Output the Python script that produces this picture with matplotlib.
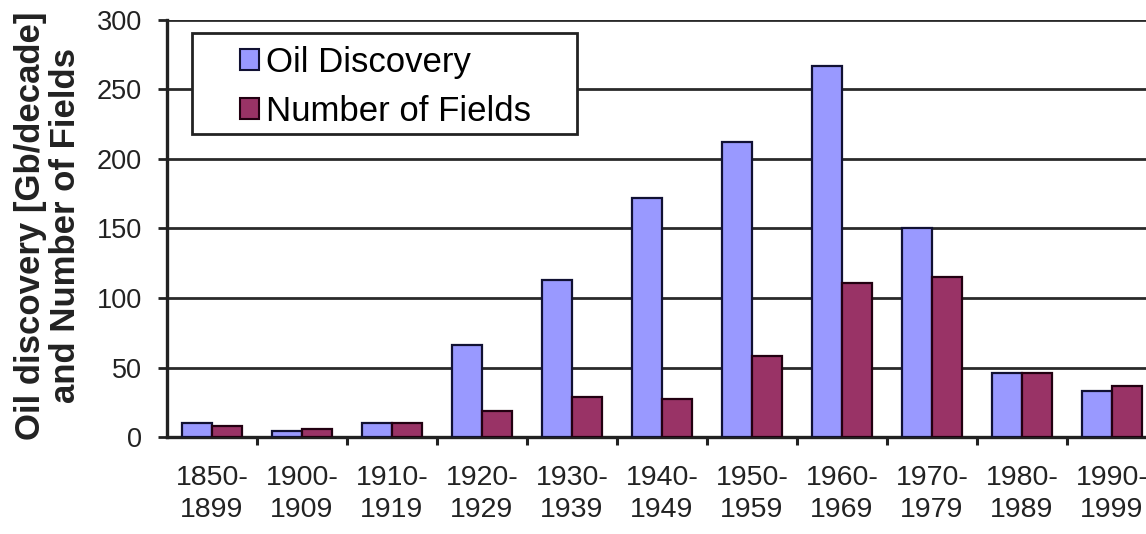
import matplotlib
matplotlib.use("Agg")
import matplotlib.pyplot as plt
from matplotlib.ticker import FixedLocator, NullFormatter
from matplotlib.patches import Rectangle

categories = ["1850-\n1899", "1900-\n1909", "1910-\n1919", "1920-\n1929", "1930-\n1939",
              "1940-\n1949", "1950-\n1959", "1960-\n1969", "1970-\n1979", "1980-\n1989", "1990-\n1999"]
oil_discovery = [10, 4, 10, 66, 113, 172, 212, 267, 150, 46, 33]
number_of_fields = [8, 6, 10, 19, 29, 27, 58, 111, 115, 46, 37]
y_ticks = [0, 50, 100, 150, 200, 250, 300]

plt.rcParams['font.family'] = ['Liberation Sans', 'DejaVu Sans']

W, H = 1146, 534
fig = plt.figure(figsize=(W / 100, H / 100), dpi=100)
left, right, bottom, top = 167, 1157, 437, 20
ax = fig.add_axes([left / W, (H - bottom) / H, (right - left) / W, (bottom - top) / H])

x = list(range(len(categories)))
bw = 1 / 3
ax.bar([i - bw / 2 for i in x], oil_discovery, width=bw, color='#9999FF',
       edgecolor='#111133', linewidth=1.6, label='Oil Discovery', zorder=3)
ax.bar([i + bw / 2 for i in x], number_of_fields, width=bw, color='#993366',
       edgecolor='#220011', linewidth=1.6, label='Number of Fields', zorder=3)

ax.set_xlim(-0.5, len(categories) - 0.5)
ax.set_ylim(0, 300)
ax.set_yticks(y_ticks)
ax.set_yticklabels([str(v) for v in y_ticks], fontsize=19.5, color='#222222')
ax.yaxis.grid(True, color='#2a2a2a', linewidth=2, zorder=0)
ax.set_axisbelow(True)

ax.set_xticks(x)
ax.set_xticklabels(categories, fontsize=20.5, color='#222222', linespacing=1.32)
ax.tick_params(axis='x', which='major', length=0, pad=20)
ax.xaxis.set_minor_locator(FixedLocator([i + 0.5 for i in x]))
ax.xaxis.set_minor_formatter(NullFormatter())
ax.tick_params(axis='x', which='minor', length=6, width=2.2, color='#222222', direction='out')
ax.tick_params(axis='y', length=6.5, width=2, color='#222222', pad=11.5)

for s in ['top', 'right']:
    ax.spines[s].set_visible(False)
for s in ['left', 'bottom']:
    ax.spines[s].set_linewidth(2.4)
    ax.spines[s].set_color('#222222')

# legend frame
frame = Rectangle((192 / W, 1 - 134 / H), 385 / W, 101 / H, transform=fig.transFigure,
                  facecolor='white', edgecolor='#222222', linewidth=2, zorder=6, clip_on=False)
ax.add_artist(frame)
leg = ax.legend(loc='upper left', bbox_to_anchor=(240 / W, 1 - 46 / H), bbox_transform=fig.transFigure,
                fontsize=25, frameon=False,
                handlelength=0.55, handleheight=0.55, handletextpad=0.2, borderpad=0,
                labelspacing=0.45, borderaxespad=0)
leg.set_zorder(7)
for h in leg.legend_handles:
    h.set_linewidth(1.5)

fig.text(48 / W, 1 - 226 / H, "Oil discovery [Gb/decade]\nand Number of Fields",
         rotation=90, ha='center', va='center', fontsize=25, fontweight='bold',
         color='#222222', linespacing=1.05)

fig.savefig("out.png", dpi=100, facecolor='white')
